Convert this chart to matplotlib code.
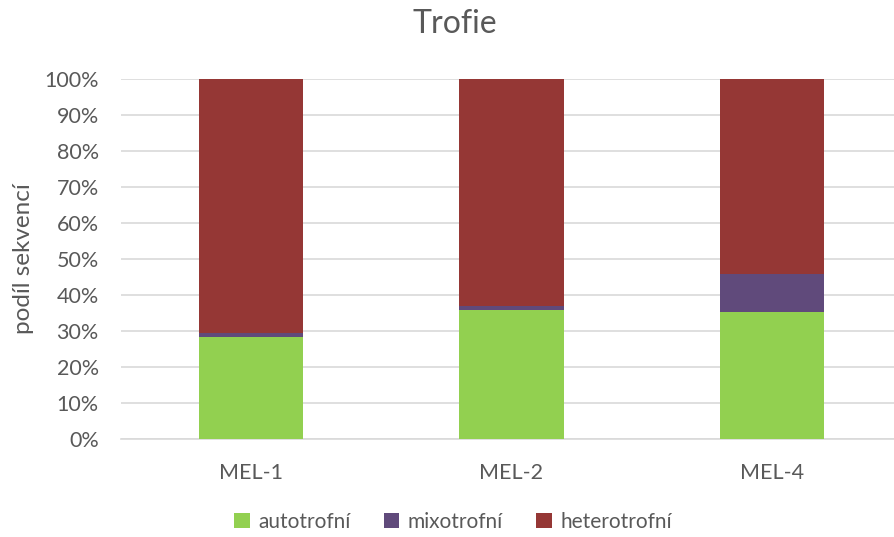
import matplotlib
matplotlib.use("Agg")
import matplotlib.pyplot as plt
import numpy as np

categories = ["MEL-1", "MEL-2", "MEL-4"]
autotrofni = [28.3, 35.8, 35.4]
mixotrofni = [1.1, 1.1, 10.4]
heterotrofni = [70.6, 63.1, 54.2]

series_names = ["autotrofní", "mixotrofní", "heterotrofní"]
colors = ["#92D050", "#604A7B", "#953735"]

plt.rcParams["font.family"] = ["Lato", "DejaVu Sans"]
text_color = "#595959"

fig = plt.figure(figsize=(8.95, 5.37), dpi=100)
ax = fig.add_axes([0.1352, 0.1825, 0.8638, 0.6704])

x = np.arange(len(categories))
bottom = np.zeros(len(categories))
for vals, name, col in zip([autotrofni, mixotrofni, heterotrofni], series_names, colors):
    ax.bar(x, vals, width=0.4, bottom=bottom, color=col, label=name, zorder=3)
    bottom += np.array(vals)

ax.set_ylim(0, 100)
ax.set_xlim(-0.5, 2.47)
ax.set_yticks(np.arange(0, 101, 10))
ax.set_yticklabels([f"{v}%" for v in range(0, 101, 10)])
ax.set_xticks(x)
ax.set_xticklabels(categories)

ax.yaxis.grid(True, color="#D9D9D9", linewidth=1.2, zorder=0)
for s in ["top", "right", "left"]:
    ax.spines[s].set_visible(False)
ax.spines["bottom"].set_color("#D9D9D9")
ax.spines["bottom"].set_linewidth(1.2)
ax.tick_params(axis="both", length=0, colors=text_color, labelsize=15.5)
ax.tick_params(axis="y", pad=16)
ax.tick_params(axis="x", pad=17)

ax.set_ylabel("podíl sekvencí", color=text_color, fontsize=17.5)
ax.yaxis.set_label_coords(-0.112, 0.5)
fig.text(0.508, 0.955, "Trofie", color=text_color, fontsize=23, ha="center", va="center")

leg = fig.legend(loc="center", bbox_to_anchor=(0.506, 0.028), ncol=3, frameon=False,
                 fontsize=15, handlelength=0.75, handleheight=0.75, handletextpad=0.4,
                 columnspacing=1.6)
for t in leg.get_texts():
    t.set_color(text_color)

fig.savefig("out.png", dpi=100)
